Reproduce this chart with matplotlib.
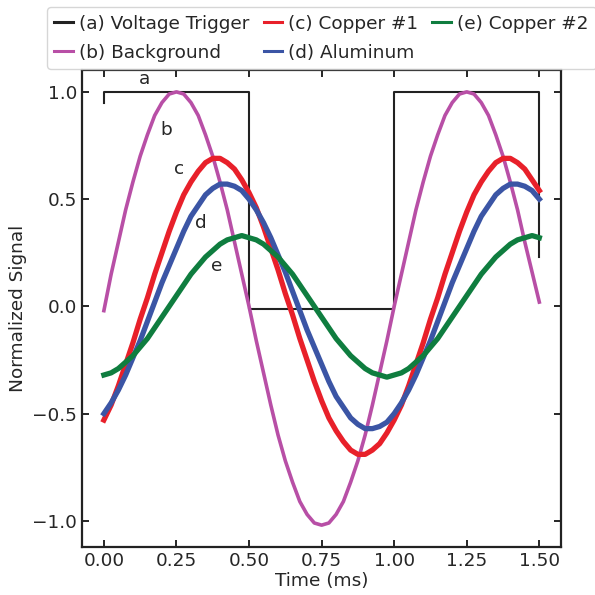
import numpy as np
import matplotlib
matplotlib.use("Agg")
import matplotlib.pyplot as plt

# -----------------------------
# Data
# -----------------------------
time_ms = np.round(np.arange(0, 1.5001, 0.025), 3)

trigger_t = [0.0, 0.0, 0.5, 0.5, 1.0, 1.0, 1.5, 1.5]
trigger_v = [0.95, 1.0, 1.0, -0.01, -0.01, 1.0, 1.0, 0.23]

background = [-0.02, 0.15, 0.30, 0.45, 0.58, 0.70, 0.80, 0.89, 0.95, 0.99, 1.00,
              0.99, 0.95, 0.89, 0.80, 0.70, 0.58, 0.45, 0.30, 0.15, 0.00,
              -0.16, -0.31, -0.46, -0.60, -0.72, -0.82, -0.91, -0.97, -1.01, -1.02,
              -1.01, -0.97, -0.91, -0.82, -0.72, -0.60, -0.46, -0.31, -0.16, 0.00,
              0.15, 0.30, 0.45, 0.58, 0.70, 0.80, 0.89, 0.95, 0.99, 1.00,
              0.99, 0.95, 0.89, 0.80, 0.70, 0.58, 0.45, 0.30, 0.16, 0.02]

copper1 = [-0.53, -0.46, -0.37, -0.27, -0.17, -0.06, 0.04, 0.15, 0.25, 0.35, 0.44,
           0.52, 0.58, 0.63, 0.67, 0.69, 0.69, 0.67, 0.64, 0.59, 0.53,
           0.46, 0.37, 0.27, 0.17, 0.06, -0.04, -0.15, -0.25, -0.35, -0.44,
           -0.52, -0.58, -0.63, -0.67, -0.69, -0.69, -0.67, -0.64, -0.59, -0.53,
           -0.46, -0.37, -0.27, -0.17, -0.06, 0.04, 0.15, 0.25, 0.35, 0.44,
           0.52, 0.58, 0.63, 0.67, 0.69, 0.69, 0.67, 0.64, 0.59, 0.54]

aluminum = [-0.50, -0.45, -0.39, -0.32, -0.24, -0.16, -0.07, 0.02, 0.11, 0.19, 0.27,
            0.35, 0.42, 0.47, 0.52, 0.55, 0.57, 0.57, 0.56, 0.54, 0.50,
            0.45, 0.39, 0.32, 0.24, 0.16, 0.07, -0.02, -0.11, -0.19, -0.27,
            -0.35, -0.42, -0.47, -0.52, -0.55, -0.57, -0.57, -0.56, -0.54, -0.50,
            -0.45, -0.39, -0.32, -0.24, -0.16, -0.07, 0.02, 0.11, 0.19, 0.27,
            0.35, 0.42, 0.47, 0.52, 0.55, 0.57, 0.57, 0.56, 0.54, 0.50]

copper2 = [-0.32, -0.31, -0.29, -0.26, -0.23, -0.19, -0.15, -0.10, -0.05, 0.00, 0.05,
           0.10, 0.15, 0.19, 0.23, 0.26, 0.29, 0.31, 0.32, 0.33, 0.32,
           0.31, 0.29, 0.26, 0.23, 0.19, 0.15, 0.10, 0.05, 0.00, -0.05,
           -0.10, -0.15, -0.19, -0.23, -0.26, -0.29, -0.31, -0.32, -0.33, -0.32,
           -0.31, -0.29, -0.26, -0.23, -0.19, -0.15, -0.10, -0.05, 0.00, 0.05,
           0.10, 0.15, 0.19, 0.23, 0.26, 0.29, 0.31, 0.32, 0.33, 0.32]

curve_labels = ["a", "b", "c", "d", "e"]
label_x = [0.14, 0.215, 0.26, 0.335, 0.39]
label_y = [1.06, 0.82, 0.64, 0.39, 0.19]

# -----------------------------
# Graph
# -----------------------------
txt = "#262626"
fs = 13.3
plt.rcParams["font.family"] = "DejaVu Sans"
plt.rcParams["font.size"] = fs

fig = plt.figure(figsize=(5.95, 5.95), dpi=100)
ax = fig.add_axes([0.138, 0.081, 0.805, 0.801])

ax.plot(trigger_t, trigger_v, color="#222222", lw=1.5, label="(a) Voltage Trigger")
ax.plot(time_ms, background, color="#b84fa6", lw=2.6, label="(b) Background")
ax.plot(time_ms, copper1, color="#e8202a", lw=3.8, label="(c) Copper #1")
ax.plot(time_ms, aluminum, color="#3b55a5", lw=3.8, label="(d) Aluminum")
ax.plot(time_ms, copper2, color="#0f7d3f", lw=3.8, label="(e) Copper #2")

for s, x, y in zip(curve_labels, label_x, label_y):
    ax.text(x, y, s, ha="center", va="center", fontsize=fs, color=txt)

ax.set_xticks([0, 0.25, 0.5, 0.75, 1.0, 1.25, 1.5])
ax.set_yticks([-1.0, -0.5, 0.0, 0.5, 1.0])
ax.tick_params(direction="in", top=True, right=True, length=5, width=1.2,
               labelsize=fs, labelcolor=txt)
for sp in ax.spines.values():
    sp.set_linewidth(1.6)
    sp.set_color("#222222")

ax.set_xlabel("Time (ms)", color=txt, labelpad=2)
ax.set_ylabel("Normalized Signal", color=txt)

handles, labels = ax.get_legend_handles_labels()
leg = fig.legend(handles, labels,
                 loc="lower left", bbox_to_anchor=(0.079, 0.884), ncol=3,
                 borderaxespad=0, fontsize=fs, handlelength=1.0,
                 handletextpad=0.35, columnspacing=0.75, labelspacing=0.6,
                 borderpad=0.4, frameon=True, edgecolor="#cccccc",
                 labelcolor=txt)
for line in leg.get_lines():
    line.set_linewidth(2.2)

fig.savefig("out.png", dpi=100)
